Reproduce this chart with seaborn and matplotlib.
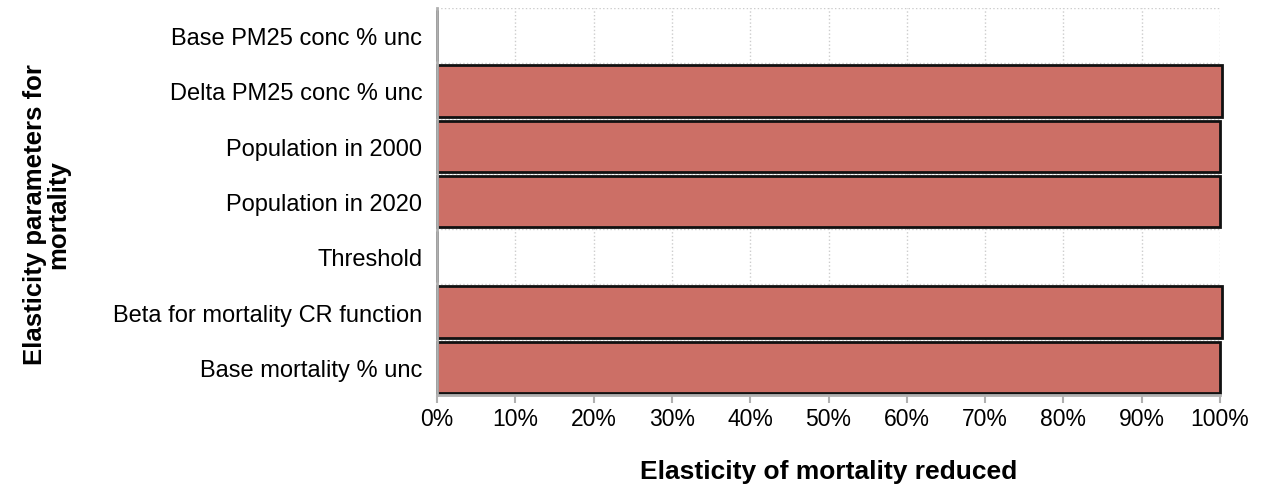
import matplotlib
matplotlib.use("Agg")
import matplotlib.pyplot as plt
import seaborn as sns
import pandas as pd
from matplotlib.ticker import PercentFormatter, MultipleLocator

sns.set_theme(style="white")
plt.rcParams['font.family'] = ['Liberation Sans', 'DejaVu Sans']

# Data
parameters = [
    "Base PM25 conc % unc",
    "Delta PM25 conc % unc",
    "Population in 2000",
    "Population in 2020",
    "Threshold",
    "Beta for mortality CR function",
    "Base mortality % unc",
]
elasticity = [0.0, 1.003, 1.0, 1.0, 0.0, 1.003, 1.0]

df = pd.DataFrame({"parameter": parameters, "elasticity": elasticity})

fig = plt.figure(figsize=(12.61, 4.89), dpi=100)
ax = fig.add_axes([437 / 1261, 1 - 396 / 489, 783 / 1261, 387 / 489])

sns.barplot(data=df, x="elasticity", y="parameter", orient="h", ax=ax,
            color="#CC6F66", saturation=1, width=0.93,
            edgecolor="#111111", linewidth=2)
for p in ax.patches:
    p.set_clip_on(False)

ax.set_xlim(0, 1.0)
ax.set_ylim(len(parameters) - 0.5, -0.5)
ax.xaxis.set_major_locator(MultipleLocator(0.1))
ax.xaxis.set_major_formatter(PercentFormatter(1.0, decimals=0))

# gridlines on category boundaries
ax.set_yticks([i + 0.5 for i in range(-1, len(parameters))], minor=True)
ax.grid(axis="x", which="major", color="#cccccc", linestyle=":", linewidth=1)
ax.grid(axis="y", which="minor", color="#cccccc", linestyle=":", linewidth=1)
ax.set_axisbelow(True)

for side in ["top", "right"]:
    ax.spines[side].set_visible(False)
for side in ["left", "bottom"]:
    ax.spines[side].set_color("#b0b0b0")
    ax.spines[side].set_linewidth(2)

ax.tick_params(axis="y", which="major", length=0, labelsize=17, pad=10.5,
               labelcolor="black")
ax.tick_params(axis="y", which="minor", length=6, width=1.5, color="#b0b0b0")
ax.tick_params(axis="x", which="major", length=6, width=1.5, color="#b0b0b0",
               labelsize=16.5, pad=3, bottom=True, labelcolor="black")

ax.set_xlabel("Elasticity of mortality reduced", fontsize=19,
              fontweight="bold", color="black")
ax.xaxis.set_label_coords(0.5, -0.165)
ax.set_ylabel("Elasticity parameters for\nmortality", fontsize=18.5,
              fontweight="bold", linespacing=0.95, color="black")
ax.yaxis.set_label_coords(-(437 - 47) / 783, 0.47)
ax.yaxis.label.set_va("center")

fig.savefig("out.png", dpi=100)
